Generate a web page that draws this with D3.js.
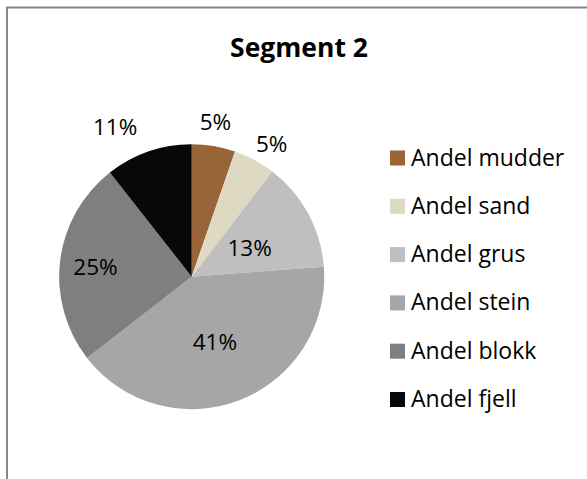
<!DOCTYPE html>
<html>
<head>
<meta charset="utf-8">
<script src="https://cdn.jsdelivr.net/npm/d3@7"></script>
<style>
  html, body { margin: 0; padding: 0; background: #fff; }
  svg { display: block; }
  text { font-family: "Open Sans", "Noto Sans", sans-serif; fill: #000; }
</style>
</head>
<body>
<svg id="chart" width="587" height="479"></svg>
<script>
// ---- data ----
const title = "Segment 2";
const categories = ["Andel mudder", "Andel sand", "Andel grus", "Andel stein", "Andel blokk", "Andel fjell"];
const values = [5.3, 5.1, 13.4, 40.7, 24.9, 10.6];
const colors = ["#976537", "#DDD9C3", "#BFBFBF", "#A6A6A6", "#7F7F7F", "#080808"];
// label placement: radius as fraction of pie radius, angular nudge in degrees
const labelRadius = [1.18, 1.17, 0.49, 0.52, 0.73, 1.27];
const labelNudge = [-0.8, 2.8, 1.7, 1.4, -1.2, -8];

// ---- layout ----
const W = 587, H = 479;
const cx = 191.7, cy = 276.7, R = 132.5;
const svg = d3.select("#chart");

// frame (extends past the right and bottom edges, as in the reference)
svg.append("rect")
  .attr("x", 7).attr("y", 7.5)
  .attr("width", W + 20).attr("height", H + 20)
  .attr("fill", "#fff")
  .attr("stroke", "#868686")
  .attr("stroke-width", 2);

// title
svg.append("text")
  .attr("x", 299).attr("y", 56.5)
  .attr("text-anchor", "middle")
  .style("font-size", "26.5px")
  .style("font-weight", "bold")
  .text(title);

const data = categories.map((c, i) => ({ name: c, value: values[i], color: colors[i], i }));
const total = d3.sum(values);

const pie = d3.pie().sort(null).value(d => d.value);
const arcs = pie(data);
const arc = d3.arc().innerRadius(0).outerRadius(R);

const g = svg.append("g").attr("transform", `translate(${cx},${cy})`);
g.selectAll("path.slice")
  .data(arcs)
  .join("path")
  .attr("class", "slice")
  .attr("d", arc)
  .attr("fill", d => d.data.color);

// data labels
g.selectAll("text.lbl")
  .data(arcs)
  .join("text")
  .attr("class", "lbl")
  .attr("transform", d => {
    const a = (d.startAngle + d.endAngle) / 2 + labelNudge[d.index] * Math.PI / 180;
    const r = labelRadius[d.index] * R;
    return `translate(${r * Math.sin(a)},${-r * Math.cos(a)})`;
  })
  .attr("text-anchor", "middle")
  .attr("dy", "0.36em")
  .style("font-size", "22.5px")
  .text(d => d3.format(".0f")(d.data.value / total * 100) + "%");

// legend
const ly = d3.scaleLinear().domain([0, categories.length - 1]).range([150.5, 392]);
const leg = svg.append("g");
const items = leg.selectAll("g.item")
  .data(data)
  .join("g")
  .attr("class", "item")
  .attr("transform", d => `translate(390,${ly(d.i)})`);
items.append("rect")
  .attr("width", 15).attr("height", 15)
  .attr("fill", d => d.color);
items.append("text")
  .attr("x", 21).attr("y", 15)
  .style("font-size", "23px")
  .text(d => d.name);
</script>
</body>
</html>
